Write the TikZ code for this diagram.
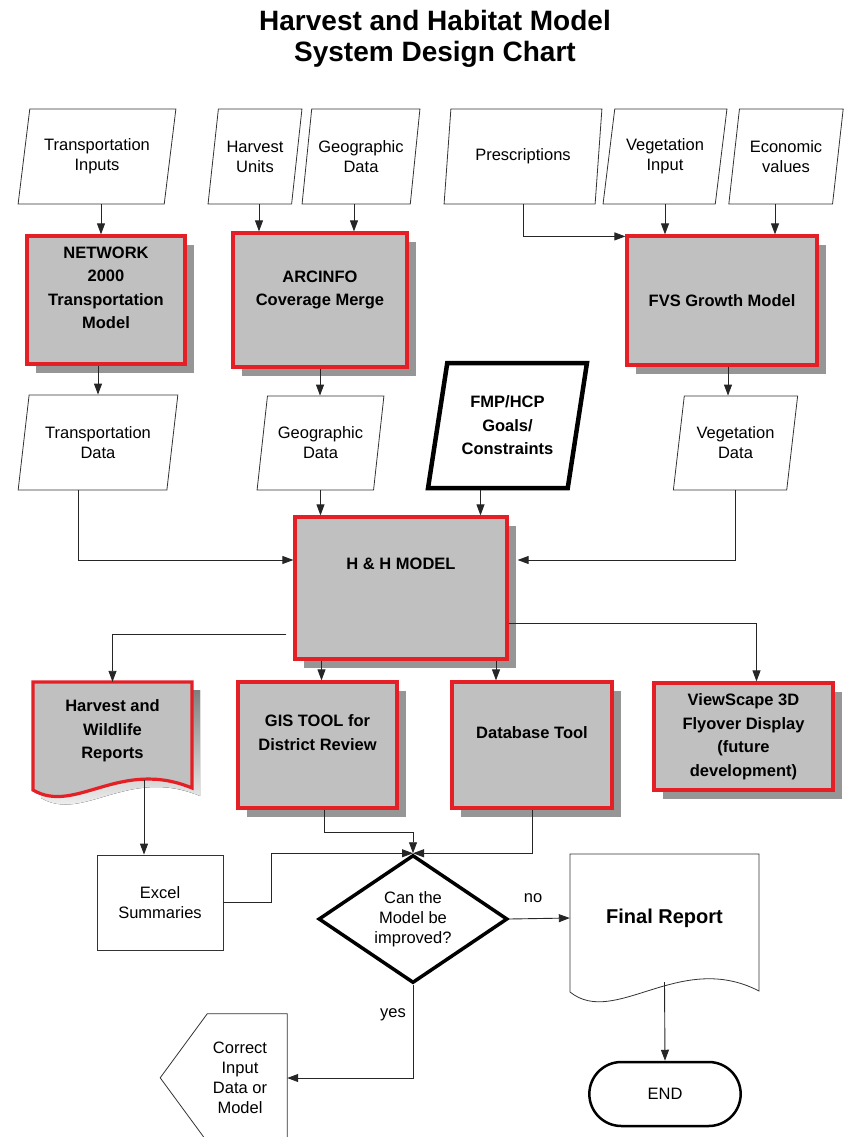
\documentclass[tikz,border=0pt]{standalone}
\usepackage{fontspec}
\setmainfont{Liberation Sans}
\usepackage{tikz}
\usetikzlibrary{shapes.geometric, shapes.misc, shadows, arrows.meta}
\usepackage{xcolor}

\definecolor{boxfill}{RGB}{192,192,192}
\definecolor{boxred}{RGB}{228,32,38}
\definecolor{shade}{RGB}{150,150,150}

\newcommand{\rtext}{\fontsize{16.5}{20}\selectfont}
\newcommand{\btext}{\fontsize{16.5}{23.5}\selectfont\bfseries}

\begin{document}
\begin{tikzpicture}[x=1pt, y=-1pt,
    arr/.style={draw=black!85, line width=0.9pt, -{Triangle[length=11pt, width=8pt]}},
    inbox/.style={trapezium, trapezium left angle=76.4, trapezium right angle=103.6,
        trapezium stretches=true, draw=black!80, line width=0.8pt, fill=white,
        align=center, inner sep=2pt, font=\rtext, minimum height=95pt},
    procbox/.style={rectangle, fill=boxfill, draw=boxred, line width=3.2pt,
        align=center, inner sep=2pt, font=\btext,
        drop shadow={shadow xshift=9pt, shadow yshift=-9pt, fill=shade, opacity=1}},
    plainbox/.style={rectangle, draw=black!80, line width=0.8pt, align=center, font=\rtext},
    lbl/.style={font=\rtext, inner sep=1pt}]
    \useasboundingbox (0,0) rectangle (844,1137);

    \node[font=\fontsize{28}{31}\selectfont\bfseries, align=center, anchor=north, inner sep=0pt] (ttl) at (435,10) {Harvest and Habitat Model\\System Design Chart};

    % inputs
    \node[inbox, minimum width=158pt] (tin) at (97,156.5) {Transportation\\Inputs};
    \node[inbox, minimum width=94pt] (hu) at (255,156.5) {Harvest\\Units};
    \node[inbox, minimum width=118pt] (gd) at (361,156.5) {Geographic\\Data};
    \node[inbox, minimum width=158pt] (pr) at (523,156.5) {Prescriptions};
    \node[inbox, minimum width=124pt] (vi) at (665,156.5) {Vegetation\\Input};
    \node[inbox, minimum width=115pt] (ev) at (786,156.5) {Economic\\values};

    % models
    \node[procbox, minimum width=158pt, minimum height=128pt, text depth=24.5pt] (net) at (106,300) {NETWORK\\2000\\Transportation\\Model};
    \node[procbox, minimum width=174pt, minimum height=134pt, text depth=24pt] (arc) at (320,300) {ARCINFO\\Coverage Merge};
    \node[procbox, minimum width=190pt, minimum height=129pt] (fvs) at (722,300.5) {FVS Growth Model};

    % data
    \node[inbox, minimum width=160pt] (tdat) at (98,442.5) {Transportation\\Data};
    \node[inbox, minimum width=127pt, minimum height=94pt] (gdat) at (320.5,443) {Geographic\\Data};
    \node[inbox, minimum width=159pt, minimum height=125pt, line width=4.5pt, draw=black, font=\btext] (fmp) at (507.5,425.5) {FMP/HCP\\Goals/\\Constraints};
    \node[inbox, minimum width=125pt, minimum height=94pt] (vdat) at (735.5,443) {Vegetation\\Data};

    \node[procbox, minimum width=212pt, minimum height=142pt, text depth=48pt] (hh) at (401,588) {H \& H MODEL};

    % outputs
    \fill[shade] (41,690) -- (200,690) -- (200,796) .. controls (128,766) and (83,823) .. (41,798) -- cycle;
    \draw[boxred, fill=boxfill, line width=3.2pt] (33,682) -- (192,682) -- (192,788) .. controls (120,758) and (75,815) .. (33,790) -- cycle;
    \node[align=center, font=\btext, minimum width=159pt, minimum height=98pt] (hwr) at (112.5,731) {Harvest and\\Wildlife\\Reports};
    \node[procbox, minimum width=159pt, minimum height=126pt, text depth=25pt] (gis) at (317.5,745) {GIS TOOL for\\District Review};
    \node[procbox, minimum width=160pt, minimum height=126pt, text depth=24pt] (dbt) at (532,745) {Database Tool};
    \node[procbox, minimum width=179pt, minimum height=107pt] (vsc) at (743.5,736.5) {ViewScape 3D\\Flyover Display\\(future\\development)};

    \node[plainbox, minimum width=126pt, minimum height=95pt] (exc) at (160,902.5) {Excel\\Summaries};
    \node[diamond, aspect=1.48, draw=black, line width=3.5pt, minimum width=189pt, minimum height=128pt, align=center, font=\rtext, inner sep=1pt] (dia) at (413,919) {Can the\\Model be\\improved?};
    \node[lbl] (no) at (533,898) {no};
    \node[lbl] (yes) at (393,1015) {yes};

    \draw[black!80, line width=0.8pt, fill=white] (570,854) -- (759,854) -- (759,991) .. controls (680,950) and (615,1028) .. (570,992) -- cycle;
    \node[font=\fontsize{20}{24}\selectfont\bfseries, minimum width=189pt, minimum height=128pt] (fin) at (664.5,918) {Final Report};
    \node[rounded rectangle, draw=black, line width=2.5pt, minimum width=158pt, minimum height=64pt, font=\rtext] (endn) at (665,1094) {END};

    \node[align=center, font=\rtext, minimum width=94pt, minimum height=128pt] (cor) at (240,1078) {Correct\\Input\\Data or\\Model};
    \draw[black!80, line width=0.8pt] (cor.north east) -- ++(-80,0) -- ++(-47,64) -- ++(47,64) -- (cor.south east) -- cycle;

    % connectors
    \draw[arr] ([xshift=-5pt]net.north |- tin.south) -- ([xshift=-5pt]net.north);
    \draw[arr] ([xshift=4pt]hu.center |- hu.south) -- ([xshift=4pt]hu.center |- arc.north);
    \draw[arr] ([xshift=-7pt]gd.center |- gd.south) -- ([xshift=-7pt]gd.center |- arc.north);
    \draw[arr] (pr.center |- pr.south) |- ([yshift=-2pt]fvs.north west);
    \draw[arr] (vi.center |- vi.south) -- (vi.center |- fvs.north);
    \draw[arr] ([xshift=-11pt]ev.center |- ev.south) -- ([xshift=-11pt]ev.center |- fvs.north);

    \draw[arr] ([xshift=-8pt]net.south) -- ([xshift=-8pt]net.south |- tdat.north);
    \draw[arr] (arc.south) -- (arc.south |- gdat.north);
    \draw[arr] ([xshift=6pt]fvs.south) -- ([xshift=6pt]fvs.south |- vdat.north);

    \draw[arr] ([xshift=-20pt]tdat.center |- tdat.south) |- ([yshift=28pt]hh.west);
    \draw[arr] (gdat.center |- gdat.south) -- (gdat.center |- hh.north);
    \draw[arr] ([xshift=-27pt]fmp.center |- fmp.south) -- ([xshift=-27pt]fmp.center |- hh.north);
    \draw[arr] (vdat.center |- vdat.south) |- ([xshift=9pt,yshift=28pt]hh.east);

    \draw[arr] ([xshift=-7pt,yshift=-46pt]hh.west) -| (hwr.north);
    \draw[arr] ([xshift=4pt]gis.north |- hh.south) -- ([xshift=4pt]gis.north);
    \draw[arr] ([xshift=-36pt]dbt.north |- hh.south) -- ([xshift=-36pt]dbt.north);
    \draw[arr] ([yshift=-35pt]hh.east) -| ([xshift=13pt]vsc.north);

    \draw[arr] ([xshift=-16pt]exc.north |- hwr.south) -- ([xshift=-16pt]exc.north);
    \draw[arr] (exc.east) -| ([xshift=-142pt]dia.north) -- (dia.north);
    \draw[arr] ([xshift=6.5pt]gis.south) -- ++(0,23) -| (dia.north);
    \draw[arr] (dbt.south) |- (dia.north);
    \draw[arr] (dia.east) -- (fin.west);
    \draw[arr] (fin.south) -- (endn.north);
    \draw[arr] (dia.south) |- (cor.east);
\end{tikzpicture}
\end{document}
